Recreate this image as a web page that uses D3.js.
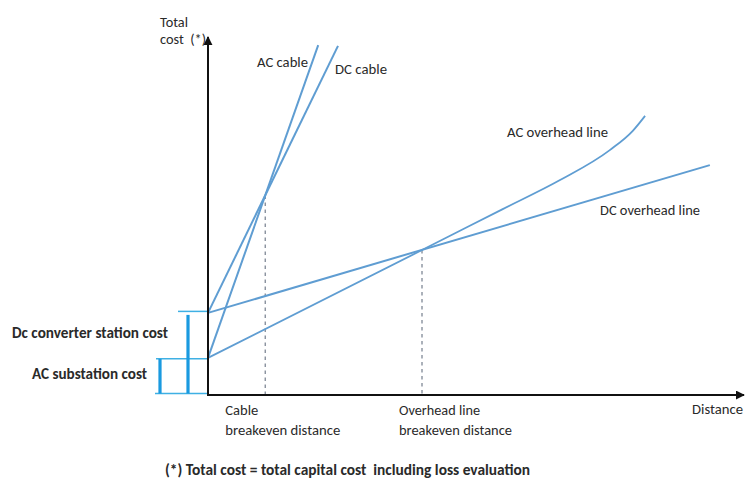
<!DOCTYPE html>
<html><head><meta charset="utf-8">
<script src="https://cdn.jsdelivr.net/npm/d3@7"></script>
<style>body{margin:0;background:#fff}svg{display:block}text{font-family:Carlito,Calibri,"Open Sans",sans-serif;fill:#2a2a2a;white-space:pre}</style>
</head><body>
<svg id="c" width="745" height="479"></svg>
<script>
// ---- data (distance units 0..100, cost units 0..100) ----
const seriesNames = ["AC cable", "DC cable", "AC overhead line", "DC overhead line"];
const acCable = [[0, 10.4], [20.6, 98.0]];
const dcCable = [[0, 23.0], [24.3, 97.8]];
const acOverhead = [[0, 10.4], [40.0, 40.6], [55.0, 52.0], [65.8, 60.2], [75.1, 68.6], [79.4, 74.0], [81.7, 78.2]];
const dcOverhead = [[0, 23.0], [93.8, 64.4]];
const breakevenDist = [10.7, 40.0];
const breakevenCost = [55.9, 40.65];
const fixedCosts = [10.4, 23.0]; // AC substation, DC converter station
const xLabels = [["Cable", "breakeven distance"], ["Overhead line", "breakeven distance"]];

const svg = d3.select("#c");
const x = d3.scaleLinear().domain([0, 100]).range([208, 743]);
const y = d3.scaleLinear().domain([0, 100]).range([395, 38]);
const line = d3.line().x(d => x(d[0])).y(d => y(d[1]));

const blue = "#5f9dd2";

// dashed breakeven lines
breakevenDist.forEach((d, i) => {
  svg.append("line").attr("x1", x(d)).attr("x2", x(d)).attr("y1", y(breakevenCost[i])).attr("y2", y(0))
    .attr("stroke", "#7f8896").attr("stroke-width", 1.3).attr("stroke-dasharray", "3.5,3.5");
});

// left cost brackets
const capColor = "#3fb0e4", barColor = "#1a9ae0";
svg.append("line").attr("x1", 178).attr("x2", x(0)).attr("y1", y(fixedCosts[1]) - 1.5).attr("y2", y(fixedCosts[1]) - 1.5).attr("stroke", capColor).attr("stroke-width", 1.5);
svg.append("line").attr("x1", 156).attr("x2", x(0)).attr("y1", y(fixedCosts[0]) + 1).attr("y2", y(fixedCosts[0]) + 1).attr("stroke", capColor).attr("stroke-width", 1.5);
svg.append("line").attr("x1", 155).attr("x2", x(0)).attr("y1", y(0) - 1.5).attr("y2", y(0) - 1.5).attr("stroke", capColor).attr("stroke-width", 1.5);
svg.append("line").attr("x1", 188).attr("x2", 188).attr("y1", y(fixedCosts[1]) + 2).attr("y2", y(0) - 1.5).attr("stroke", barColor).attr("stroke-width", 3.2);
svg.append("line").attr("x1", 160).attr("x2", 160).attr("y1", y(fixedCosts[0]) + 1).attr("y2", y(0) - 1.5).attr("stroke", barColor).attr("stroke-width", 3.2);

// series lines
[acCable, dcCable, dcOverhead].forEach(s => {
  svg.append("path").attr("d", line(s)).attr("fill", "none").attr("stroke", blue).attr("stroke-width", 2);
});
svg.append("path").attr("d", d3.line().x(d => x(d[0])).y(d => y(d[1])).curve(d3.curveMonotoneX)(acOverhead))
  .attr("fill", "none").attr("stroke", blue).attr("stroke-width", 1.8);

// axes
const defs = svg.append("defs");
defs.append("marker").attr("id", "arr").attr("viewBox", "0 0 10 10").attr("refX", 9).attr("refY", 5)
  .attr("markerWidth", 4.5).attr("markerHeight", 4.5).attr("orient", "auto")
  .append("path").attr("d", "M0,0L10,5L0,10z").attr("fill", "#111");
svg.append("line").attr("x1", x(0)).attr("x2", x(0)).attr("y1", y(0) + 1).attr("y2", 37)
  .attr("stroke", "#111").attr("stroke-width", 2).attr("marker-end", "url(#arr)");
svg.append("line").attr("x1", x(0) - 1).attr("x2", 744).attr("y1", y(0)).attr("y2", y(0))
  .attr("stroke", "#111").attr("stroke-width", 2).attr("marker-end", "url(#arr)");

// texts
function t(str, px, py, w, size, weight) {
  const el = svg.append("text").attr("x", px).attr("y", py).attr("font-size", size).text(str);
  if (weight) el.attr("font-weight", weight);
  if (w) el.attr("textLength", w).attr("lengthAdjust", "spacingAndGlyphs");
  return el;
}
t("Total", 160, 27, 28, 14);
t("cost  (*)", 160, 44, 46, 14);
t(seriesNames[0], 257, 67, 51, 14);
t(seriesNames[1], 335, 74, 52, 14);
t(seriesNames[2], 507, 137, 101, 14);
t(seriesNames[3], 600, 215, 100, 14);
t(xLabels[0][0], x(breakevenDist[0]) - 40, 415, 33, 14);
t(xLabels[0][1], x(breakevenDist[0]) - 40, 435, 115, 14);
t(xLabels[1][0], x(breakevenDist[1]) - 23, 415, 81, 14);
t(xLabels[1][1], x(breakevenDist[1]) - 23, 435, 113, 14);
t("Distance", 692, 414, 51, 14);
t("Dc converter station cost", 12, 338, 156, 16, "bold");
t("AC substation cost", 32, 379, 115, 16, "bold");
t("(*) Total cost = total capital cost  including loss evaluation", 165, 475, 365, 16, "bold");
</script>
</body></html>
